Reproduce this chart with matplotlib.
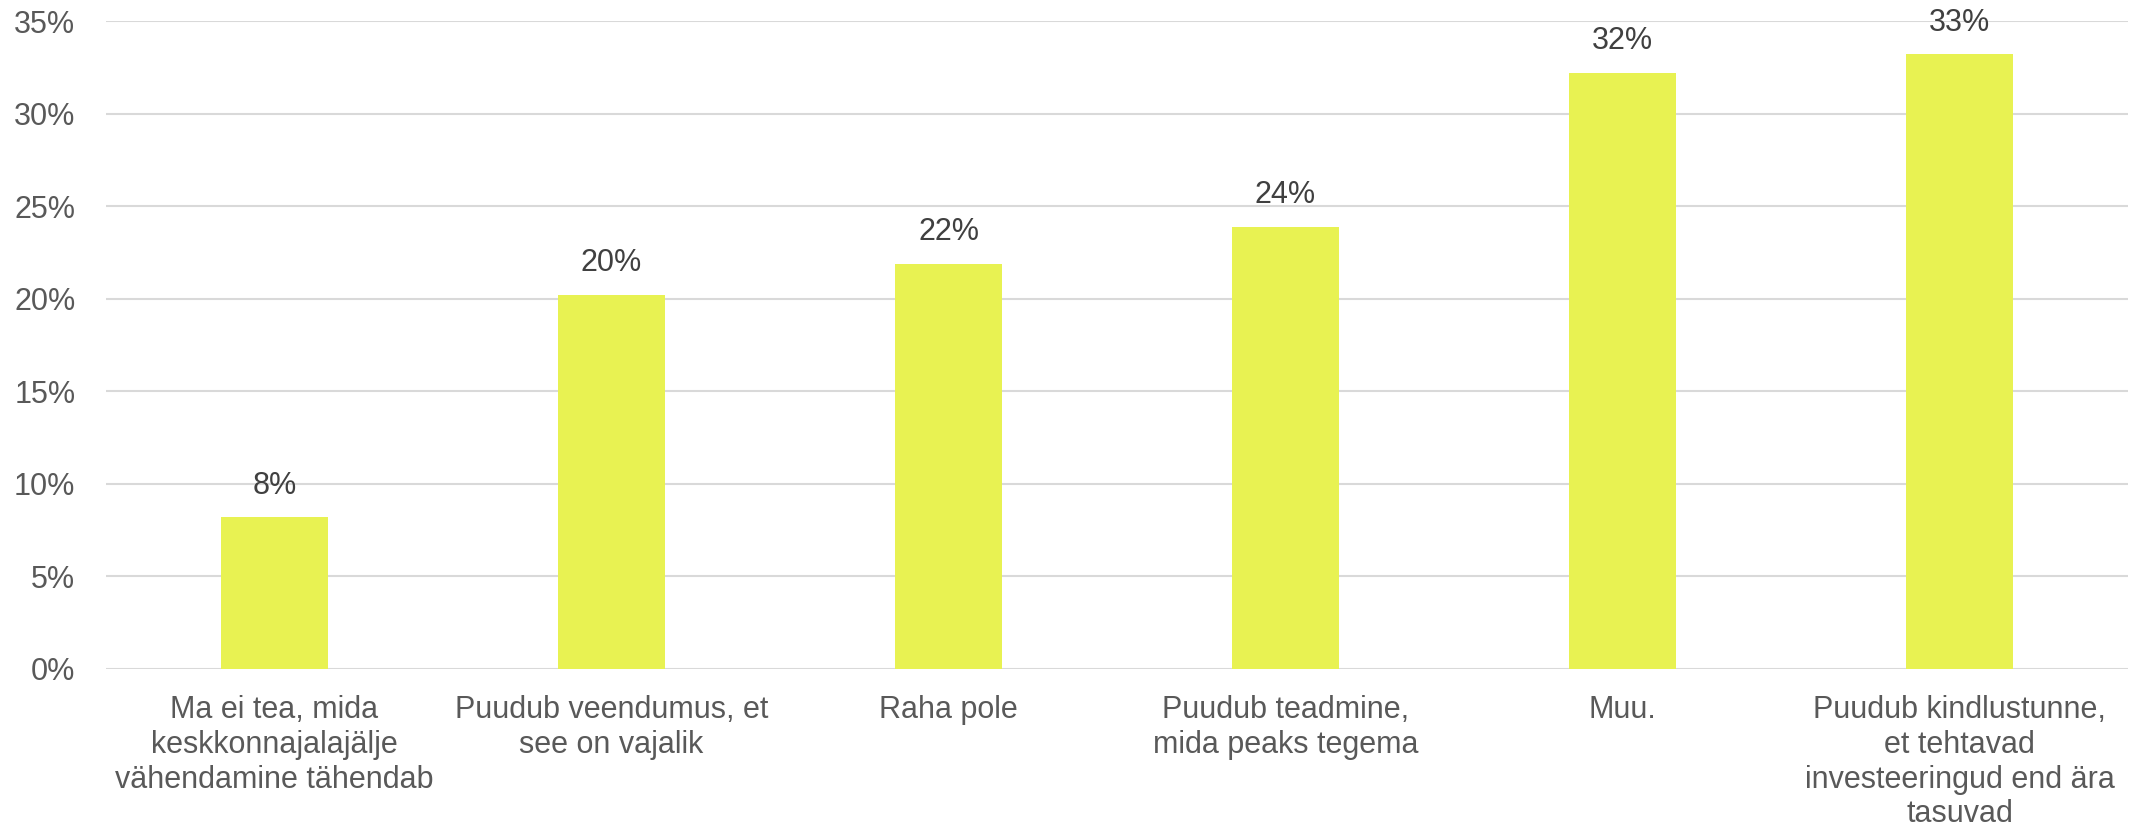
import matplotlib
matplotlib.use("Agg")
import matplotlib.pyplot as plt
from matplotlib.ticker import FuncFormatter, MultipleLocator

categories = [
    "Ma ei tea, mida\nkeskkonnajalajälje\nvähendamine tähendab",
    "Puudub veendumus, et\nsee on vajalik",
    "Raha pole",
    "Puudub teadmine,\nmida peaks tegema",
    "Muu.",
    "Puudub kindlustunne,\net tehtavad\ninvesteeringud end ära\ntasuvad",
]
values = [8.2, 20.2, 21.9, 23.9, 32.2, 33.2]
value_labels = ["8%", "20%", "22%", "24%", "32%", "33%"]

plt.rcParams['font.family'] = ['Liberation Sans', 'DejaVu Sans']

fig = plt.figure(figsize=(21.36, 8.32), dpi=100)
ax = fig.add_axes([106/2136, 1 - 669/832, (2128-106)/2136, (669-21)/832])

x = list(range(len(categories)))
bars = ax.bar(x, values, width=0.315, color="#E8F252", zorder=3)

for b, lab in zip(bars, value_labels):
    ax.annotate(lab, (b.get_x() + b.get_width()/2, b.get_height()),
                xytext=(0, 12), textcoords="offset points",
                ha="center", va="bottom", fontsize=22, color="#404040",
                annotation_clip=False, zorder=4)

ax.set_xlim(-0.5, len(categories) - 0.5)
ax.set_ylim(0, 35)
ax.yaxis.set_major_locator(MultipleLocator(5))
ax.yaxis.set_major_formatter(FuncFormatter(lambda v, p: f"{v:.0f}%"))
ax.set_xticks(x)
ax.set_xticklabels(categories, fontsize=22, color="#595959", linespacing=1.2)
ax.tick_params(axis="y", labelsize=22, labelcolor="#595959", length=0, pad=22)
ax.tick_params(axis="x", length=0, pad=19)
ax.grid(axis="y", color="#D9D9D9", linewidth=1.5, zorder=0)
for s in ax.spines.values():
    s.set_visible(False)

fig.savefig("out.png", dpi=100, facecolor="white")
